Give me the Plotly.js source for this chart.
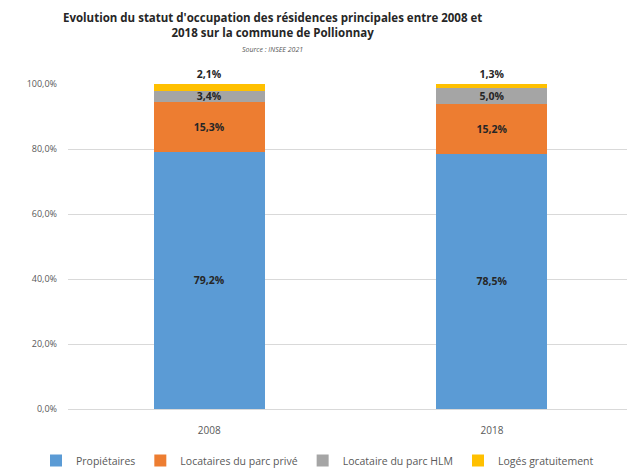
<!DOCTYPE html>
<html>
<head>
<meta charset="utf-8">
<script src="https://cdn.plot.ly/plotly-3.0.1.min.js"></script>
<style>html,body{margin:0;padding:0;background:#fff;}#chart{width:627px;height:475px;}</style>
</head>
<body>
<div id="chart"></div>
<script>
const years = ['2008', '2018'];
const seriesNames = ['Propiétaires', 'Locataires du parc privé', 'Locataire du parc HLM', 'Logés gratuitement'];
const proprietaires = [79.2, 78.5];
const locatairesPrive = [15.3, 15.2];
const locataireHLM = [3.4, 5.0];
const logesGratuitement = [2.1, 1.3];
const yTicks = [0, 20, 40, 60, 80, 100];

const colors = ['#5B9BD5', '#ED7D31', '#A5A5A5', '#FFC000'];
const allSeries = [proprietaires, locatairesPrive, locataireHLM, logesGratuitement];
const fmt = v => v.toFixed(1).replace('.', ',') + '%';

const labelFont = {family: 'Open Sans, sans-serif', size: 10.5, color: '#262626', weight: 'bold'};
const traces = allSeries.map((vals, i) => ({
  type: 'bar',
  name: seriesNames[i],
  x: years,
  y: vals,
  marker: {color: colors[i]},
  text: vals.map(fmt),
  textposition: i === 3 ? 'outside' : 'inside',
  insidetextanchor: 'middle',
  constraintext: 'none',
  cliponaxis: false,
  textfont: labelFont,
  outsidetextfont: labelFont,
  insidetextfont: labelFont,
  hoverinfo: 'none'
}));

const layout = {
  width: 627, height: 475,
  margin: {l: 68, r: 0, t: 84, b: 58},
  paper_bgcolor: '#fff', plot_bgcolor: '#fff',
  barmode: 'stack',
  bargap: 0.607,
  separators: ', ',
  showlegend: true,
  legend: {orientation: 'h', x: (36 - 68) / 559, xref: 'paper', xanchor: 'left', y: -0.115, yanchor: 'top',
           font: {family: 'Open Sans, sans-serif', size: 10.5, color: '#595959'}, traceorder: 'normal', itemwidth: 30},
  xaxis: {type: 'category', range: [-0.5, 1.478], showgrid: false, showline: false, ticks: '',
          ticklabelstandoff: 14,
          tickfont: {family: 'Open Sans, sans-serif', size: 10, color: '#595959'}, fixedrange: true},
  yaxis: {range: [0, 100], tickmode: 'array', tickvals: yTicks, ticktext: yTicks.map(fmt), showgrid: true,
          gridcolor: '#d9d9d9', zeroline: true, zerolinecolor: '#d9d9d9', showline: false, ticks: '',
          ticklabelstandoff: 10,
          tickfont: {family: 'Open Sans, sans-serif', size: 9, color: '#595959'}, automargin: false},
  annotations: [
    {text: "<b>Evolution du statut d'occupation des résidences principales entre 2008 et<br>2018 sur la commune de Pollionnay</b>",
     xref: 'paper', yref: 'paper', x: (272 - 68) / 559, y: 1, yshift: 76, xanchor: 'center', yanchor: 'top',
     showarrow: false, align: 'center', font: {family: 'Open Sans, sans-serif', size: 11.5, color: '#262626'}},
    {text: '<i>Source : INSEE 2021</i>', xref: 'paper', yref: 'paper', x: (272 - 68) / 559, y: 1, yshift: 41,
     xanchor: 'center', yanchor: 'top', showarrow: false, font: {family: 'Open Sans, sans-serif', size: 7, color: '#595959'}}
  ]
};

Plotly.newPlot('chart', traces, layout, {displayModeBar: false, staticPlot: true});
</script>
</body>
</html>
